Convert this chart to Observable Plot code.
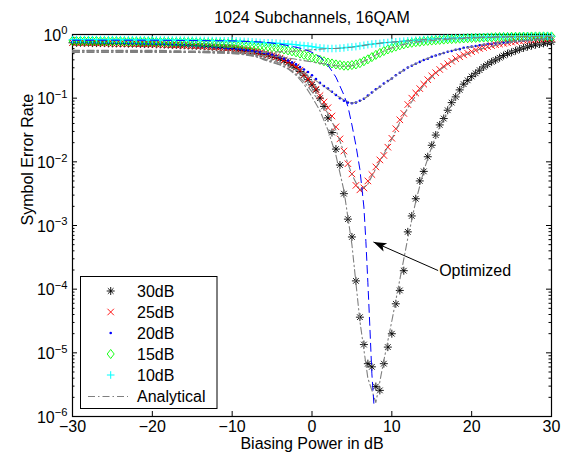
<!DOCTYPE html>
<html><head><meta charset="utf-8">
<script src="https://cdn.jsdelivr.net/npm/d3@7"></script>
<script src="https://cdn.jsdelivr.net/npm/@observablehq/plot@0.6"></script>
<style>
body{margin:0;background:#fff;}
#wrap{position:relative;width:569px;height:460px;background:#fff;}
</style></head><body><div id="wrap"></div>
<script>
// ---------- DATA ----------
const chartTitle = "1024 Subchannels, 16QAM";
const xLabel = "Biasing Power in dB";
const yLabel = "Symbol Error Rate";
const snrLabels = ["30dB", "25dB", "20dB", "15dB", "10dB"];
const analyticalLabel = "Analytical";

// biasing power grid of the simulated markers (dB)
const biasDb = [
 -30,-29.5,-29,-28.5,-28,-27.5,-27,-26.5,-26,-25.5,
 -25,-24.5,-24,-23.5,-23,-22.5,-22,-21.5,-21,-20.5,
 -20,-19.5,-19,-18.5,-18,-17.5,-17,-16.5,-16,-15.5,
 -15,-14.5,-14,-13.5,-13,-12.5,-12,-11.5,-11,-10.5,
 -10,-9.5,-9,-8.5,-8,-7.5,-7,-6.5,-6,-5.5,
 -5,-4.5,-4,-3.5,-3,-2.5,-2,-1.5,-1,-0.5,
 0,0.5,1,1.5,2,2.5,3,3.5,4,4.5,
 5,5.5,6,6.5,7,7.5,8,8.5,9,9.5,
 10,10.5,11,11.5,12,12.5,13,13.5,14,14.5,
 15,15.5,16,16.5,17,17.5,18,18.5,19,19.5,
 20,20.5,21,21.5,22,22.5,23,23.5,24,24.5,
 25,25.5,26,26.5,27,27.5,28,28.5,29,29.5,
 30];

// log10(symbol error rate) of each simulated series
const log10Ser30 = [
 -.13,-.13,-.13,-.13,-.13,-.135,-.135,-.135,-.135,-.14,
 -.14,-.14,-.14,-.14,-.145,-.145,-.145,-.15,-.15,-.15,
 -.15,-.155,-.155,-.16,-.16,-.165,-.165,-.17,-.17,-.175,
 -.175,-.18,-.18,-.185,-.19,-.195,-.2,-.205,-.21,-.215,
 -.22,-.23,-.24,-.25,-.26,-.27,-.28,-.295,-.31,-.325,
 -.34,-.36,-.38,-.41,-.44,-.48,-.52,-.58,-.64,-.71,
 -.79,-.87,-1.0,-1.13,-1.31,-1.54,-1.80,-2.05,-2.50,-2.90,
 -3.18,-3.87,-4.44,-4.87,-5.17,-5.22,-5.53,-5.59,-5.17,-4.91,
 -4.70,-4.23,-4.02,-3.71,-3.10,-2.85,-2.58,-2.30,-2.15,-1.92,
 -1.74,-1.58,-1.42,-1.32,-1.19,-1.07,-.98,-.87,-.78,-.72,
 -.66,-.61,-.56,-.51,-.47,-.43,-.40,-.365,-.33,-.30,
 -.28,-.255,-.23,-.21,-.19,-.175,-.16,-.15,-.14,-.13,
 -.12];
const log10Ser25 = [
 -.125,-.13,-.13,-.13,-.13,-.13,-.135,-.135,-.135,-.135,
 -.14,-.14,-.14,-.14,-.14,-.145,-.145,-.145,-.15,-.15,
 -.15,-.15,-.155,-.155,-.16,-.16,-.165,-.165,-.17,-.17,
 -.175,-.175,-.18,-.185,-.19,-.19,-.195,-.2,-.205,-.21,
 -.215,-.22,-.23,-.24,-.25,-.26,-.27,-.285,-.30,-.315,
 -.33,-.35,-.37,-.40,-.43,-.47,-.51,-.56,-.63,-.70,
 -.77,-.86,-.96,-1.06,-1.15,-1.28,-1.45,-1.64,-1.83,-2.03,
 -2.19,-2.37,-2.44,-2.41,-2.30,-2.20,-2.08,-1.97,-1.90,-1.77,
 -1.63,-1.48,-1.34,-1.24,-1.10,-1.00,-.92,-.85,-.78,-.71,
 -.65,-.60,-.55,-.50,-.46,-.42,-.38,-.35,-.32,-.295,
 -.27,-.245,-.22,-.205,-.19,-.175,-.16,-.15,-.14,-.13,
 -.12,-.11,-.10,-.095,-.09,-.085,-.08,-.075,-.07,-.065,
 -.06];
const log10Ser20 = [
 -.12,-.12,-.12,-.12,-.125,-.125,-.125,-.13,-.13,-.13,
 -.13,-.135,-.135,-.135,-.14,-.14,-.14,-.145,-.145,-.15,
 -.15,-.15,-.155,-.155,-.16,-.16,-.165,-.17,-.17,-.175,
 -.18,-.18,-.185,-.19,-.19,-.195,-.2,-.205,-.21,-.215,
 -.22,-.225,-.23,-.24,-.25,-.26,-.27,-.28,-.29,-.30,
 -.32,-.34,-.36,-.38,-.41,-.44,-.47,-.51,-.55,-.59,
 -.64,-.70,-.76,-.81,-.85,-.90,-.95,-1.00,-1.04,-1.07,
 -1.08,-1.07,-1.04,-1.01,-.96,-.91,-.86,-.82,-.77,-.73,
 -.69,-.64,-.60,-.56,-.52,-.49,-.46,-.43,-.40,-.38,
 -.35,-.33,-.31,-.29,-.27,-.26,-.24,-.23,-.21,-.20,
 -.19,-.18,-.17,-.16,-.15,-.145,-.14,-.13,-.125,-.12,
 -.11,-.105,-.10,-.095,-.09,-.085,-.08,-.078,-.075,-.072,
 -.07];
const log10Ser15 = [
 -.10,-.10,-.10,-.10,-.10,-.10,-.10,-.105,-.105,-.105,
 -.105,-.105,-.105,-.11,-.11,-.11,-.11,-.11,-.11,-.11,
 -.11,-.115,-.115,-.115,-.115,-.12,-.12,-.12,-.12,-.12,
 -.12,-.125,-.125,-.13,-.13,-.13,-.135,-.135,-.14,-.14,
 -.14,-.145,-.15,-.155,-.16,-.165,-.17,-.175,-.18,-.19,
 -.20,-.21,-.22,-.235,-.25,-.265,-.28,-.30,-.32,-.34,
 -.36,-.38,-.40,-.42,-.44,-.455,-.47,-.48,-.49,-.49,
 -.48,-.47,-.45,-.42,-.39,-.355,-.32,-.29,-.26,-.235,
 -.21,-.19,-.17,-.155,-.14,-.13,-.12,-.115,-.105,-.10,
 -.095,-.09,-.085,-.08,-.075,-.072,-.068,-.065,-.062,-.058,
 -.055,-.053,-.05,-.048,-.046,-.044,-.042,-.04,-.04,-.038,
 -.036,-.035,-.034,-.033,-.032,-.031,-.03,-.03,-.03,-.03,
 -.03];
const log10Ser10 = [
 -.08,-.08,-.08,-.08,-.08,-.08,-.08,-.08,-.08,-.08,
 -.08,-.08,-.082,-.082,-.082,-.082,-.084,-.084,-.084,-.085,
 -.085,-.085,-.086,-.086,-.087,-.087,-.088,-.088,-.089,-.09,
 -.09,-.09,-.092,-.093,-.094,-.095,-.096,-.097,-.098,-.099,
 -.10,-.102,-.105,-.108,-.11,-.115,-.12,-.125,-.13,-.13,
 -.13,-.135,-.14,-.145,-.15,-.155,-.16,-.17,-.175,-.18,
 -.19,-.20,-.21,-.215,-.22,-.22,-.22,-.215,-.21,-.20,
 -.195,-.19,-.18,-.17,-.16,-.15,-.145,-.14,-.13,-.125,
 -.12,-.115,-.11,-.105,-.10,-.095,-.09,-.085,-.08,-.075,
 -.07,-.068,-.065,-.062,-.06,-.058,-.055,-.052,-.05,-.048,
 -.045,-.044,-.043,-.042,-.04,-.039,-.038,-.037,-.036,-.035,
 -.034,-.033,-.032,-.031,-.03,-.029,-.028,-.027,-.026,-.025,
 -.025];

// analytical curves (1 dB grid), log10(SER)
const analyticalDb = [
 -30,-29,-28,-27,-26,-25,-24,-23,-22,-21,
 -20,-19,-18,-17,-16,-15,-14,-13,-12,-11,
 -10,-9,-8,-7,-6,-5,-4,-3,-2,-1,
 0,1,2,3,4,5,6,7,8,9,
 10,11,12,13,14,15,16,17,18,19,
 20,21,22,23,24,25,26,27,28,29,
 30];
const log10Ana30 = [
 -.25,-.25,-.25,-.25,-.25,-.25,-.25,-.25,-.25,-.25,
 -.25,-.25,-.255,-.255,-.26,-.26,-.26,-.265,-.265,-.27,
 -.28,-.29,-.31,-.34,-.40,-.44,-.48,-.54,-.64,-.78,
 -.98,-1.2,-1.5,-1.9,-2.45,-3.3,-4.5,-5.4,-5.78,-5.12,
 -4.5,-3.85,-3.2,-2.62,-2.14,-1.76,-1.45,-1.2,-1.0,-.82,
 -.68,-.56,-.47,-.39,-.33,-.27,-.22,-.18,-.155,-.135,
 -.12];
const log10Ana25 = [
 -.255,-.255,-.255,-.255,-.255,-.255,-.255,-.26,-.26,-.26,
 -.26,-.26,-.265,-.265,-.27,-.27,-.27,-.275,-.275,-.28,
 -.29,-.30,-.32,-.35,-.39,-.43,-.47,-.53,-.62,-.74,
 -.90,-1.06,-1.24,-1.5,-1.85,-2.2,-2.45,-2.35,-2.1,-1.88,
 -1.64,-1.38,-1.15,-.96,-.80,-.67,-.56,-.47,-.39,-.33,
 -.28,-.23,-.20,-.17,-.145,-.125,-.105,-.09,-.08,-.07,
 -.06];
const log10Ana20 = [
 -.26,-.26,-.26,-.26,-.26,-.26,-.26,-.265,-.265,-.265,
 -.265,-.27,-.27,-.275,-.275,-.28,-.28,-.285,-.29,-.295,
 -.30,-.31,-.33,-.35,-.38,-.41,-.45,-.50,-.55,-.61,
 -.68,-.77,-.86,-.95,-1.03,-1.08,-1.05,-.97,-.87,-.78,
 -.69,-.60,-.52,-.46,-.40,-.35,-.31,-.27,-.24,-.215,
 -.19,-.17,-.15,-.135,-.12,-.11,-.10,-.09,-.08,-.075,
 -.07];
const log10Ana15 = [
 -.27,-.27,-.27,-.27,-.27,-.27,-.27,-.27,-.27,-.27,
 -.27,-.275,-.275,-.28,-.28,-.28,-.285,-.285,-.29,-.29,
 -.295,-.30,-.31,-.32,-.33,-.34,-.35,-.37,-.39,-.41,
 -.43,-.45,-.47,-.49,-.50,-.49,-.45,-.39,-.32,-.26,
 -.21,-.17,-.14,-.12,-.105,-.095,-.085,-.075,-.068,-.062,
 -.056,-.05,-.046,-.043,-.04,-.037,-.035,-.033,-.031,-.03,
 -.03];
const log10Ana10 = [
 -.28,-.28,-.28,-.28,-.28,-.28,-.28,-.28,-.28,-.28,
 -.28,-.28,-.28,-.28,-.28,-.28,-.28,-.28,-.28,-.28,
 -.28,-.28,-.28,-.28,-.28,-.28,-.27,-.27,-.26,-.25,
 -.24,-.23,-.22,-.22,-.21,-.20,-.18,-.16,-.145,-.13,
 -.12,-.11,-.10,-.09,-.08,-.072,-.065,-.06,-.055,-.05,
 -.046,-.043,-.04,-.038,-.036,-.034,-.032,-.03,-.028,-.026,
 -.025];

// "Optimized" curve (blue dashed)
const optimizedDb = [-30,-25,-20,-15,-10,-8,-6,-4,-2,-1,0,1,2,3,4,4.5,5,5.5,6,6.5,6.75,7,7.25,7.5,7.75];
const log10Optimized = [-.09,-.09,-.09,-.095,-.10,-.11,-.12,-.15,-.20,-.23,-.28,-.35,-.48,-.67,-.95,-1.13,-1.42,-1.74,-2.12,-2.71,-3.25,-3.9,-4.6,-5.33,-5.8];

// annotation
const annotationLabel = "Optimized";
const annotationTip = [7.7, 5.5e-4];
const annotationTail = [15.8, 1.96e-4];

// axes
const xTicks = [-30, -20, -10, 0, 10, 20, 30];
const yTicks = [1e-6, 1e-5, 1e-4, 1e-3, 1e-2, 1e-1, 1];
const yTickBase = ["10", "10", "10", "10", "10", "10", "10"];
const yTickExp = ["\u22126", "\u22125", "\u22124", "\u22123", "\u22122", "\u22121", "0"];
const xTickLabels = ["\u221230", "\u221220", "\u221210", "0", "10", "20", "30"];

// ---------- LAYOUT / STYLE ----------
const W = 569, H = 460;
const M = {top: 34, right: 18, bottom: 44, left: 72};
const innerW = W - M.left - M.right, innerH = H - M.top - M.bottom;
const FONT = '"Liberation Sans", Arial, Helvetica, sans-serif';
const FS = 16;

const symAsterisk = {draw(c, size) { const s = Math.sqrt(size / Math.PI), d = s * Math.SQRT1_2;
  c.moveTo(-s, 0); c.lineTo(s, 0); c.moveTo(0, -s); c.lineTo(0, s);
  c.moveTo(-d, -d); c.lineTo(d, d); c.moveTo(-d, d); c.lineTo(d, -d); }};
const symTimes = {draw(c, size) { const d = Math.sqrt(size / Math.PI) * Math.SQRT1_2;
  c.moveTo(-d, -d); c.lineTo(d, d); c.moveTo(-d, d); c.lineTo(d, -d); }};
const symPlus = {draw(c, size) { const s = Math.sqrt(size / Math.PI);
  c.moveTo(-s, 0); c.lineTo(s, 0); c.moveTo(0, -s); c.lineTo(0, s); }};
const symDiamond = {draw(c, size) { const s = Math.sqrt(size / Math.PI), h = s * 1.3;
  c.moveTo(0, -h); c.lineTo(s, 0); c.lineTo(0, h); c.lineTo(-s, 0); c.closePath(); }};
const symDot = {draw(c, size) { const s = Math.sqrt(size / Math.PI);
  c.moveTo(s, 0); c.arc(0, 0, s, 0, 2 * Math.PI); }};
const symArrowHead = {draw(c) { c.moveTo(0, 0); c.lineTo(-13, -4.5); c.lineTo(-10, 0); c.lineTo(-13, 4.5); c.closePath(); }};

const seriesLogs = [log10Ser30, log10Ser25, log10Ser20, log10Ser15, log10Ser10];
const seriesStyle = [
  {color: "#000000", symbol: symAsterisk, r: 4, fill: "none", sw: 0.9},
  {color: "#ff0000", symbol: symTimes, r: 4.6, fill: "none", sw: 0.9},
  {color: "#0000ff", symbol: symDot, r: 1.3, fill: "#0000ff", sw: 0},
  {color: "#00ff00", symbol: symDiamond, r: 3.5, fill: "none", sw: 0.9},
  {color: "#00ffff", symbol: symPlus, r: 3.8, fill: "none", sw: 1}
];
const anaLogs = [log10Ana30, log10Ana25, log10Ana20, log10Ana15, log10Ana10];
const GRAY = "#7f7f7f";
const DASHDOT = "7,3,1.5,3";

const markerMarks = seriesLogs.map((logs, k) => {
  const st = seriesStyle[k];
  const rows = biasDb.map((x, i) => ({x, ser: 10 ** logs[i]}));
  return Plot.dot(rows, {x: "x", y: "ser", symbol: st.symbol, r: st.r,
    fill: st.fill, stroke: st.sw ? st.color : "none", strokeWidth: st.sw});
});
const anaMarks = anaLogs.map(logs => {
  const rows = analyticalDb.map((x, i) => ({x, ser: 10 ** logs[i]}));
  return Plot.line(rows, {x: "x", y: "ser", stroke: GRAY, strokeWidth: 1.1, strokeDasharray: DASHDOT});
});
const optRows = optimizedDb.map((x, i) => ({x, ser: 10 ** log10Optimized[i]}));

// minor ticks of the log axis
const yMinor = [];
for (let e = -6; e < 0; e++) for (let k = 2; k <= 9; k++) yMinor.push(k * 10 ** e);

// arrow geometry in screen space (for the rotation of the head)
const sx = Plot.scale({x: {domain: [-30, 30], range: [M.left, W - M.right]}});
const sy = Plot.scale({y: {type: "log", domain: [1e-6, 1], range: [H - M.bottom, M.top]}});
const ang = Math.atan2(sy.apply(annotationTip[1]) - sy.apply(annotationTail[1]),
                       sx.apply(annotationTip[0]) - sx.apply(annotationTail[0])) * 180 / Math.PI;
const ann = [{tx: annotationTip[0], ty: annotationTip[1], lx: annotationTail[0], ly: annotationTail[1], label: annotationLabel}];

const plot = Plot.plot({
  width: W, height: H,
  marginTop: M.top, marginRight: M.right, marginBottom: M.bottom, marginLeft: M.left,
  style: {fontFamily: FONT, background: "white", color: "black", overflow: "visible"},
  x: {domain: [-30, 30], axis: null},
  y: {type: "log", domain: [1e-6, 1], axis: null},
  marks: [
    Plot.frame({stroke: "black", strokeWidth: 1.2}),
    // ticks (inward, on all four sides)
    Plot.tickX(xTicks, {x: d => d, insetTop: innerH - 5, stroke: "black"}),
    Plot.tickX(xTicks, {x: d => d, insetBottom: innerH - 5, stroke: "black"}),
    Plot.tickY(yTicks, {y: d => d, insetRight: innerW - 5, stroke: "black"}),
    Plot.tickY(yTicks, {y: d => d, insetLeft: innerW - 5, stroke: "black"}),
    Plot.tickY(yMinor, {y: d => d, insetRight: innerW - 2.5, stroke: "black"}),
    Plot.tickY(yMinor, {y: d => d, insetLeft: innerW - 2.5, stroke: "black"}),
    // tick labels
    Plot.text(xTicks, {x: d => d, frameAnchor: "bottom", dy: 15, text: (d, i) => xTickLabels[i], fontSize: FS, fill: "black"}),
    Plot.text(yTicks, {y: d => d, frameAnchor: "left", dx: -5, dy: 1, textAnchor: "end",
      text: (d, i) => yTickBase[i] + "^" + yTickExp[i], fontSize: FS, fill: "black"}),
    // axis labels + title
    Plot.text([xLabel], {frameAnchor: "bottom", dy: 32, fontSize: FS, fill: "black"}),
    Plot.text([yLabel], {frameAnchor: "left", dx: -45, rotate: -90, fontSize: FS, fill: "black"}),
    Plot.text([chartTitle], {frameAnchor: "top", dy: -23, fontSize: FS, fill: "black"}),
    // data
    ...markerMarks,
    ...anaMarks,
    Plot.line(optRows, {x: "x", y: "ser", stroke: "#0000ff", strokeWidth: 1, strokeDasharray: "8,5"}),
    // annotation
    Plot.link(ann, {x1: "lx", y1: "ly", x2: "tx", y2: "ty", stroke: "black", strokeWidth: 1}),
    Plot.dot(ann, {x: "tx", y: "ty", symbol: symArrowHead, fill: "black", stroke: "none", rotate: ang}),
    Plot.text(ann, {x: "lx", y: "ly", text: "label", textAnchor: "start", dx: 1, fontSize: FS, fill: "black"})
  ]
});

const wrap = document.getElementById("wrap");
wrap.appendChild(plot);

// superscript exponents on the y tick labels
d3.select(plot).selectAll("text").each(function() {
  const s = this.textContent;
  if (s.indexOf("^") < 0) return;
  const [base, ex] = s.split("^");
  while (this.firstChild) this.removeChild(this.firstChild);
  this.appendChild(document.createTextNode(base));
  const ts = document.createElementNS("http://www.w3.org/2000/svg", "tspan");
  ts.setAttribute("dy", "-0.55em");
  ts.setAttribute("font-size", "0.7em");
  ts.textContent = ex;
  this.appendChild(ts);
});

// ---------- LEGEND (overlay) ----------
const lg = d3.select(wrap).append("svg").attr("width", W).attr("height", H)
  .style("position", "absolute").style("left", "0px").style("top", "0px")
  .attr("font-family", FONT).attr("font-size", FS);
lg.append("rect").attr("x", 80.5).attr("y", 276.5).attr("width", 136.5).attr("height", 132)
  .attr("fill", "white").attr("stroke", "black").attr("stroke-width", 1);
const rowY = [291, 312, 333, 354, 375, 396.5];
snrLabels.forEach((lab, k) => {
  const st = seriesStyle[k];
  lg.append("path").attr("transform", `translate(110.7,${rowY[k]})`)
    .attr("d", d3.symbol(st.symbol, st.r * st.r * Math.PI)())
    .attr("fill", st.fill).attr("stroke", st.sw ? st.color : "none").attr("stroke-width", st.sw);
  lg.append("text").attr("x", 137).attr("y", rowY[k]).attr("dy", "0.35em").text(lab);
});
lg.append("line").attr("x1", 88).attr("x2", 128).attr("y1", rowY[5]).attr("y2", rowY[5])
  .attr("stroke", GRAY).attr("stroke-width", 1.1).attr("stroke-dasharray", DASHDOT);
lg.append("text").attr("x", 137).attr("y", rowY[5]).attr("dy", "0.35em").text(analyticalLabel);
</script>
</body></html>
